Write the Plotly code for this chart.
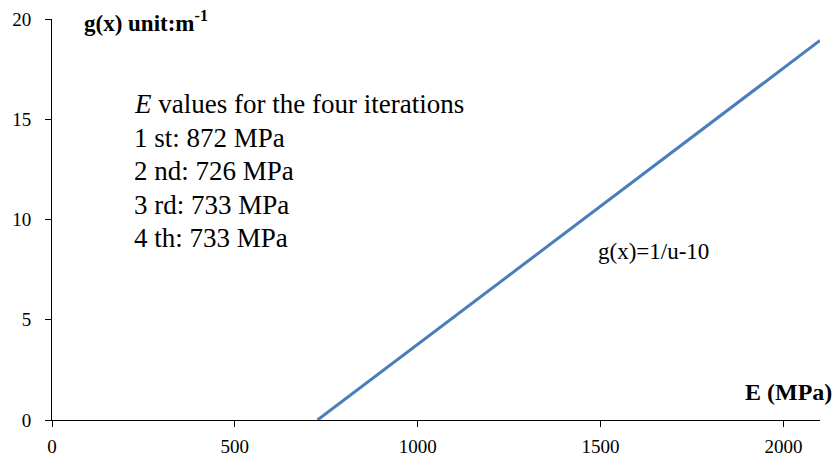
import plotly.graph_objects as go

# Data
E_values = [726, 1000, 1500, 2100]
g_values = [0.0, 3.77, 10.66, 18.93]
x_ticks = [0, 500, 1000, 1500, 2000]
y_ticks = [0, 5, 10, 15, 20]
iteration_lines = ["<i>E</i> values for the four iterations",
                   "1 st: 872 MPa", "2 nd: 726 MPa", "3 rd: 733 MPa", "4 th: 733 MPa"]

FONT = "Liberation Serif, Times New Roman, serif"

fig = go.Figure()
fig.add_trace(go.Scatter(x=E_values, y=g_values, mode="lines",
                         line=dict(color="#4A7EBB", width=3), showlegend=False,
                         hoverinfo="skip"))

W, H = 835, 459
ml, mr, mt, mb = 52, 15, 19, 39

fig.update_layout(
    width=W, height=H,
    margin=dict(l=ml, r=mr, t=mt, b=mb, pad=0),
    paper_bgcolor="white", plot_bgcolor="white",
    font=dict(family=FONT, color="black", size=19),
    xaxis=dict(range=[0, 2100], tickvals=x_ticks, showgrid=False, zeroline=False,
               showline=True, linecolor="black", linewidth=1,
               ticks="outside", ticklen=6, tickcolor="black",
               ticklabelstandoff=3, automargin=False,
               tickfont=dict(family=FONT, size=19)),
    yaxis=dict(range=[0, 20], tickvals=y_ticks, showgrid=False, zeroline=False,
               showline=True, linecolor="black", linewidth=1,
               ticks="outside", ticklen=6, tickcolor="black",
               ticklabelstandoff=10, automargin=False,
               tickfont=dict(family=FONT, size=19)),
)

def px(x):
    return (x - ml) / (W - ml - mr)

def py(y):
    return 1 - (y - mt) / (H - mt - mb)

anns = []
anns.append(dict(text="<b>g(x) unit:m<sup>-1</sup></b>", xref="paper", yref="paper",
                 x=px(82), y=py(22), xanchor="left", yanchor="middle", showarrow=False,
                 font=dict(family=FONT, size=23)))
anns.append(dict(text="<b>E (MPa)</b>", xref="paper", yref="paper",
                 x=px(834), y=py(392), xanchor="right", yanchor="middle", showarrow=False,
                 font=dict(family=FONT, size=24)))
anns.append(dict(text="g(x)=1/u-10", xref="paper", yref="paper",
                 x=px(596), y=py(251), xanchor="left", yanchor="middle", showarrow=False,
                 font=dict(family=FONT, size=23)))
line_y = [104, 137.5, 171, 204.5, 238]
for t, yy in zip(iteration_lines, line_y):
    anns.append(dict(text=t, xref="paper", yref="paper",
                     x=px(132), y=py(yy), xanchor="left", yanchor="middle", showarrow=False,
                     font=dict(family=FONT, size=27)))
fig.update_layout(annotations=anns)

fig.write_html("out.html")
